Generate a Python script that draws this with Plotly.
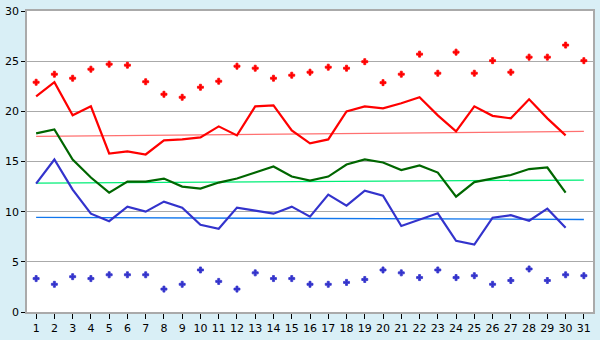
import plotly.graph_objects as go

days = list(range(1, 32))

max_temp = [21.5, 22.9, 19.6, 20.5, 15.8, 16.0, 15.7, 17.1, 17.2, 17.4,
            18.5, 17.6, 20.5, 20.6, 18.1, 16.8, 17.2, 20.0, 20.5, 20.3,
            20.8, 21.4, 19.6, 18.0, 20.5, 19.55, 19.3, 21.2, 19.3, 17.6, None]
max_record = [22.9, 23.7, 23.3, 24.2, 24.7, 24.6, 22.95, 21.7, 21.4, 22.4,
              23.0, 24.5, 24.3, 23.3, 23.6, 23.9, 24.4, 24.3, 24.95, 22.86,
              23.7, 25.7, 23.8, 25.9, 23.8, 25.05, 23.9, 25.4, 25.4, 26.6, 25.05]
mean_temp = [17.8, 18.2, 15.2, 13.4, 11.9, 13.0, 13.0, 13.3, 12.5, 12.3,
             12.9, 13.3, 13.9, 14.5, 13.5, 13.1, 13.5, 14.7, 15.2, 14.9,
             14.15, 14.6, 13.9, 11.5, 12.95, 13.3, 13.65, 14.25, 14.4, 11.9, None]
min_temp = [12.8, 15.2, 12.2, 9.8, 9.05, 10.5, 10.0, 11.0, 10.4, 8.7,
            8.3, 10.4, 10.1, 9.8, 10.5, 9.5, 11.7, 10.6, 12.1, 11.6,
            8.57, 9.24, 9.84, 7.1, 6.72, 9.4, 9.65, 9.1, 10.3, 8.4, None]
min_record = [3.33, 2.76, 3.52, 3.33, 3.71, 3.71, 3.71, 2.28, 2.76, 4.19,
              3.05, 2.28, 3.9, 3.33, 3.33, 2.76, 2.76, 2.95, 3.24, 4.19,
              3.9, 3.43, 4.19, 3.43, 3.62, 2.76, 3.14, 4.29, 3.14, 3.71, 3.62]
max_trend = [17.5, 18.0]
mean_trend = [12.85, 13.15]
min_trend = [9.43, 9.22]
trend_x = [1, 31]

fig = go.Figure()

def trend(ys, color):
    fig.add_trace(go.Scatter(x=trend_x, y=ys, mode="lines",
                             line=dict(color=color, width=1.3), hoverinfo="skip"))

trend(max_trend, "#ff7070")
trend(mean_trend, "#00ee77")
trend(min_trend, "#1177ee")

def line(ys, color):
    fig.add_trace(go.Scatter(x=days, y=ys, mode="lines",
                             line=dict(color=color, width=2.2)))

line(max_temp, "#ff0000")
line(mean_temp, "#006600")
line(min_temp, "#3333cc")

def dots(ys, color):
    fig.add_trace(go.Scatter(x=days, y=ys, mode="markers",
                             marker=dict(symbol="cross", size=5, color=color,
                                         line=dict(width=0.8, color=color))))

dots(max_record, "#ff0000")
dots(min_record, "#3333cc")

fig.update_layout(
    width=600, height=340,
    margin=dict(l=20, r=5, t=5, b=20),
    paper_bgcolor="#d9eff6",
    plot_bgcolor="#ffffff",
    showlegend=False,
    font=dict(family="DejaVu Sans", size=11, color="#000000"),
)
fig.update_xaxes(
    range=[0.5, 31.5], tickmode="array", tickvals=days,
    ticktext=[str(d) for d in days],
    showgrid=False, zeroline=False,
    showline=True, linecolor="#aaaaaa", linewidth=1.5, mirror=True,
    ticks="outside", ticklen=5, tickcolor="#000000", tickwidth=1,
)
fig.update_yaxes(
    range=[0, 30], tickmode="array", tickvals=[0, 5, 10, 15, 20, 25, 30],
    showgrid=True, gridcolor="#aaaaaa", gridwidth=1.2, zeroline=False,
    showline=True, linecolor="#aaaaaa", linewidth=1.5, mirror=True,
    ticks="outside", ticklen=4, tickcolor="#000000", tickwidth=1,
)

fig.write_html("out.html")
